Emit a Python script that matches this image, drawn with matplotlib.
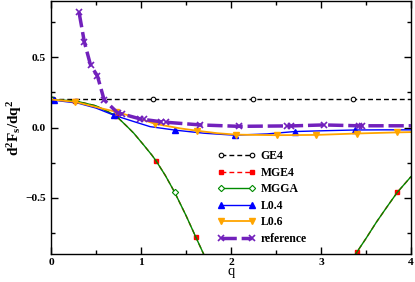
import matplotlib
matplotlib.use('Agg')
import matplotlib.pyplot as plt
from matplotlib.ticker import MultipleLocator

plt.rcParams['font.family'] = 'Liberation Serif'
plt.rcParams['font.weight'] = 'bold'
plt.rcParams['mathtext.fontset'] = 'custom'
plt.rcParams['mathtext.rm'] = 'Liberation Serif:bold'
plt.rcParams['mathtext.it'] = 'Liberation Serif:bold'
plt.rcParams['mathtext.bf'] = 'Liberation Serif:bold'
plt.rcParams['lines.scale_dashes'] = False

# GE4: constant line
q_ge4 = [0.0, 0.026, 1.137, 2.248, 3.36, 4.0]
ge4 = [0.2, 0.2, 0.2, 0.2, 0.2, 0.2]

# MGGA (MGE4 falls on the same curve)
q_mgga = [0.0, 0.27, 0.5, 0.72, 0.85, 0.92, 1.03, 1.12, 1.167, 1.27, 1.374,
          1.5, 1.61, 1.70, 1.8, 2.06, 2.5, 2.95, 3.3, 3.40, 3.5, 3.62, 3.75,
          3.85, 4.0]
mgga = [0.2, 0.19, 0.155, 0.085, 0.005, -0.04, -0.124, -0.195, -0.236, -0.34,
        -0.46, -0.625, -0.78, -0.905, -1.04, -1.4, -1.7, -1.4, -0.98, -0.886,
        -0.79, -0.67, -0.55, -0.46, -0.35]
q_mge4 = list(q_mgga)
mge4 = list(mgga)

q_l04 = [0.03, 0.3, 0.5, 0.7, 0.92, 1.1, 1.38, 1.54, 1.7, 2.04, 2.4, 2.71,
         3.05, 3.38, 3.7, 4.0]
l04 = [0.195, 0.174, 0.139, 0.088, 0.043, 0.007, -0.018, -0.029, -0.04,
       -0.054, -0.045, -0.028, -0.022, -0.017, -0.016, -0.016]

q_l06 = [0.0, 0.27, 0.54, 0.72, 0.95, 1.156, 1.43, 1.62, 1.85, 2.06, 2.51,
         2.95, 3.40, 3.85, 4.0]
l06 = [0.2, 0.183, 0.14, 0.113, 0.07, 0.027, -0.005, -0.022, -0.04, -0.05,
       -0.054, -0.052, -0.042, -0.034, -0.032]

q_ref = [0.311, 0.37, 0.44, 0.515, 0.59, 0.74, 0.785, 0.99, 1.03, 1.22, 1.28,
         1.66, 2.09, 2.62, 2.67, 3.03, 3.42, 3.46, 4.0]
ref = [0.821, 0.61, 0.443, 0.369, 0.198, 0.105, 0.098, 0.062, 0.058, 0.042,
       0.038, 0.019, 0.009, 0.012, 0.012, 0.019, 0.013, 0.013, 0.013]

fig = plt.figure(figsize=(4.15, 2.82), dpi=100)
ax = fig.add_axes([0.123, 0.099, 0.867, 0.897])

ax.plot(q_ge4, ge4, color='black', lw=1, linestyle=(0, (3.5, 2.2)),
        marker='o', ms=3.3, mfc='white', mew=0.8, markevery=[1, 2, 3, 4],
        label='GE4')
ax.plot(q_mge4, mge4, color='red', lw=1, linestyle=(0, (3.5, 2.2)),
        marker='s', ms=3.2, markevery=[1, 3, 8, 12, 15, 16, 17, 19, 23],
        label='MGE4')
ax.plot(q_mgga, mgga, color='#008b00', lw=1, marker='D', ms=3.2, mfc='white',
        mew=0.8, markevery=[0, 10], label='MGGA')
ax.plot(q_l04, l04, color='blue', lw=1, marker='^', ms=4.5,
        markevery=[0, 3, 6, 9, 11, 13], label='L0.4')
ax.plot(q_l06, l06, color='orange', lw=1.3, marker='v', ms=4.5,
        markevery=[1, 3, 5, 7, 9, 10, 11, 12, 13], label='L0.6')
ax.plot(q_ref, ref, color='#7221bc', lw=2.5, linestyle=(0, (11, 3.5)),
        marker='x', ms=4.5, mew=1.2, markevery=list(range(len(q_ref) - 1)),
        label='reference')

ax.set_xlim(0, 4)
ax.set_ylim(-0.9, 0.9)
ax.xaxis.set_major_locator(MultipleLocator(1))
ax.xaxis.set_minor_locator(MultipleLocator(0.5))
ax.yaxis.set_major_locator(MultipleLocator(0.5))
ax.yaxis.set_minor_locator(MultipleLocator(0.25))
ax.tick_params(which='both', direction='in', top=True, right=True,
               labelsize=8.2, width=1)
ax.tick_params(which='major', length=5)
ax.tick_params(which='minor', length=3)
ax.tick_params(axis='x', pad=2.5)
for s in ax.spines.values():
    s.set_linewidth(1)

ax.set_xlabel('q', fontsize=10.5, labelpad=-1)
ax.set_ylabel(r'$\mathrm{d^2F_s/dq^2}$', fontsize=11, labelpad=1)

ax.legend(loc='upper left', bbox_to_anchor=(0.462, 0.41), frameon=False,
          fontsize=8.5, numpoints=2, handlelength=3.2, handletextpad=0.45,
          labelspacing=0.38, borderpad=0, borderaxespad=0)

fig.savefig('out.png', dpi=100)
